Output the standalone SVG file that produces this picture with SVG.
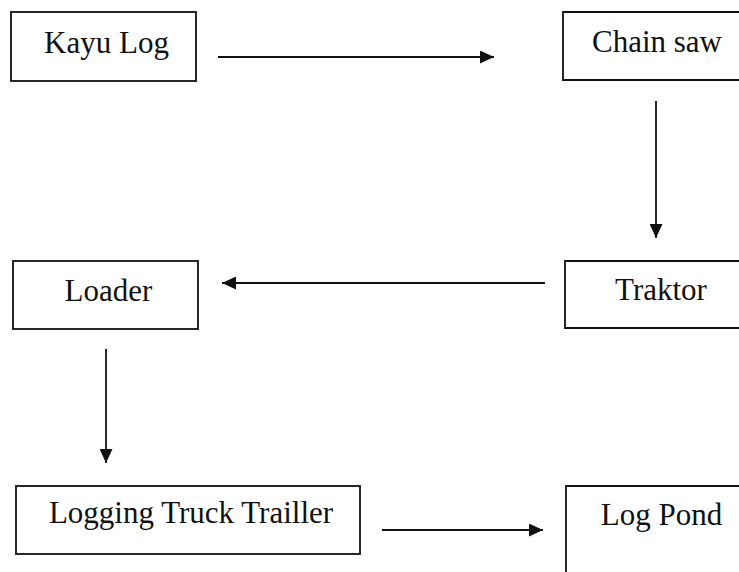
<svg xmlns="http://www.w3.org/2000/svg" width="739" height="572" viewBox="0 0 739 572">
  <style>
    .box { fill: none; stroke: #111; stroke-width: 1.8; }
    .label { font-family: "Liberation Serif", "Times New Roman", serif; font-size: 31px; fill: #111; text-anchor: middle; }
    .link { stroke: #111; stroke-width: 1.8; fill: none; marker-end: url(#head); }
  </style>
  <defs>
    <marker id="head" markerUnits="userSpaceOnUse" markerWidth="14" markerHeight="13" refX="14" refY="6.5" orient="auto">
      <path d="M0,0 L14,6.5 L0,13 Z" fill="#111"/>
    </marker>
  </defs>
  <rect width="739" height="572" fill="#fff"/>

  <g id="kayu-log">
    <rect class="box" x="11" y="12" width="185" height="69"/>
    <text class="label" x="106.5" y="53">Kayu Log</text>
  </g>

  <g id="chain-saw">
    <path class="box" d="M741,12 H563 V80 H741"/>
    <text class="label" x="657" y="52">Chain saw</text>
  </g>

  <g id="traktor">
    <path class="box" d="M741,261 H565 V328 H741"/>
    <text class="label" x="661" y="300">Traktor</text>
  </g>

  <g id="loader">
    <rect class="box" x="13" y="261" width="185" height="68"/>
    <text class="label" x="108.5" y="301">Loader</text>
  </g>

  <g id="logging-truck-trailler">
    <rect class="box" x="16" y="486" width="344" height="68"/>
    <text class="label" x="191" y="523">Logging Truck Trailler</text>
  </g>

  <g id="log-pond">
    <path class="box" d="M566,573 V486 H741"/>
    <text class="label" x="661.5" y="525">Log Pond</text>
  </g>

  <g id="connectors">
    <line class="link" x1="218" y1="57" x2="494" y2="57"/>
    <line class="link" x1="656" y1="101" x2="656" y2="238"/>
    <line class="link" x1="545" y1="283" x2="222" y2="283"/>
    <line class="link" x1="106" y1="349" x2="106" y2="463"/>
    <line class="link" x1="382" y1="530" x2="543" y2="530"/>
  </g>
</svg>
